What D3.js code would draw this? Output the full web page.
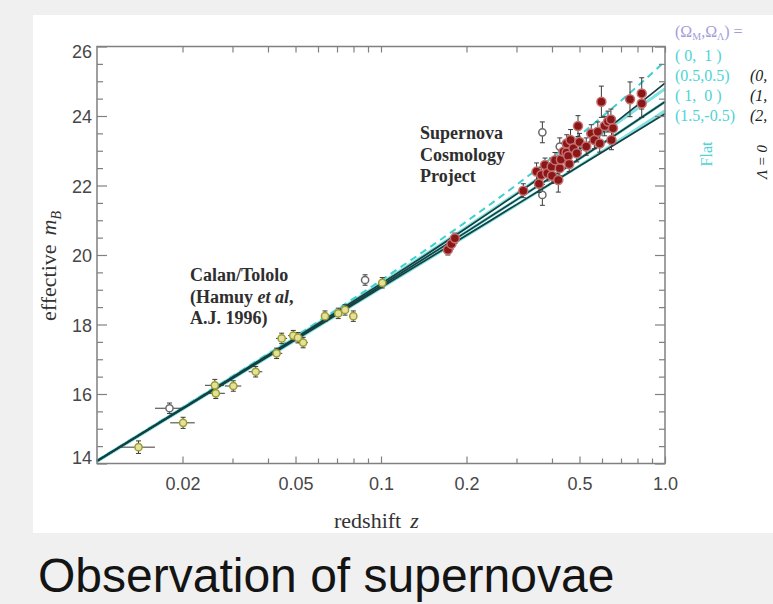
<!DOCTYPE html>
<html>
<head>
<meta charset="utf-8">
<script src="https://cdn.jsdelivr.net/npm/d3@7"></script>
<style>
  body { margin: 0; background: #f0f0f0; }
  svg { display: block; }
</style>
</head>
<body>
<div id="chart"></div>
<script>
// Model curves: effective m_B on a redshift grid, one array per (Omega_M, Omega_Lambda)
const modelZ   = [0.01, 0.02, 0.05, 0.1, 0.2, 0.3, 0.5, 0.7, 1.0];
const flat01   = [14.086, 15.612, 17.665, 19.271, 20.965, 22.019, 23.439, 24.442, 25.569];
const flat55   = [14.078, 15.596, 17.624, 19.189, 20.800, 21.772, 23.030, 23.876, 24.784];
const flat10   = [14.069, 15.580, 17.585, 19.115, 20.666, 21.587, 22.768, 23.559, 24.408];
const flat15   = [14.061, 15.564, 17.548, 19.048, 20.552, 21.439, 22.571, 23.331, 24.150];
const open00   = [14.075, 15.591, 17.613, 19.170, 20.776, 21.753, 23.043, 23.941, 24.945];
const open10   = [14.069, 15.580, 17.585, 19.115, 20.666, 21.587, 22.768, 23.559, 24.408];
const open20   = [14.064, 15.569, 17.559, 19.064, 20.569, 21.450, 22.559, 23.290, 24.064];

// Calan/Tololo supernovae (low redshift)
const calanZ      = [0.0140, 0.0201, 0.0260, 0.0262, 0.0302, 0.0362, 0.0429, 0.0447, 0.0491, 0.0510, 0.0532, 0.0635, 0.0707, 0.0747, 0.0799, 0.1010];
const calanMag    = [14.47, 15.17, 16.25, 16.02, 16.23, 16.64, 17.17, 17.60, 17.68, 17.62, 17.48, 18.24, 18.32, 18.42, 18.24, 19.20];
const calanMagErr = [0.18, 0.16, 0.17, 0.15, 0.15, 0.15, 0.15, 0.15, 0.15, 0.15, 0.15, 0.15, 0.15, 0.15, 0.15, 0.15];
const calanZErr   = [0.0020, 0.0020, 0.0020, 0.0020, 0.0020, 0.0020, 0.0020, 0.0020, 0.0020, 0.0020, 0.0020, 0.0020, 0.0020, 0.0020, 0.0020, 0.0020];

// Excluded low-redshift points (open circles)
const lowOpenZ      = [0.0180, 0.0879];
const lowOpenMag    = [15.59, 19.28];
const lowOpenMagErr = [0.15, 0.15];
const lowOpenZErr   = [0.0020, 0.0020];

// Supernova Cosmology Project (high redshift)
const scpZ      = [0.172, 0.177, 0.182, 0.317, 0.353, 0.360, 0.367, 0.378, 0.385, 0.399, 0.400, 0.410, 0.421, 0.426, 0.430,
                   0.439, 0.450, 0.451, 0.456, 0.460, 0.465, 0.476, 0.489, 0.494, 0.500, 0.528, 0.550, 0.564, 0.580, 0.589,
                   0.597, 0.613, 0.630, 0.645, 0.648, 0.656, 0.753, 0.828, 0.828];
const scpMag    = [20.15, 20.32, 20.48, 21.85, 22.40, 22.05, 22.30, 22.59, 22.35, 22.54, 22.28, 22.73, 22.16, 22.50, 22.75,
                   22.97, 22.95, 23.21, 22.85, 22.62, 23.31, 23.07, 22.93, 23.71, 23.25, 23.12, 23.50, 23.31, 23.55, 23.21,
                   24.41, 23.71, 23.84, 23.90, 23.31, 23.65, 24.48, 24.65, 24.36];
const scpMagErr = [0.15, 0.15, 0.15, 0.20, 0.25, 0.25, 0.22, 0.20, 0.22, 0.25, 0.22, 0.22, 0.35, 0.22, 0.25,
                   0.25, 0.25, 0.25, 0.22, 0.22, 0.30, 0.22, 0.25, 0.30, 0.25, 0.25, 0.25, 0.25, 0.28, 0.25,
                   0.45, 0.28, 0.30, 0.30, 0.28, 0.30, 0.50, 0.45, 0.40];

// Excluded high-redshift points (open circles)
const highOpenZ      = [0.370, 0.370, 0.426];
const highOpenMag    = [23.53, 21.73, 23.12];
const highOpenMagErr = [0.30, 0.30, 0.25];

// Axis ticks
const xMajorTicks = [0.02, 0.05, 0.1, 0.2, 0.5, 1.0];
const xTickLabels = ["0.02", "0.05", "0.1", "0.2", "0.5", "1.0"];
const xMinorTicks = [0.03, 0.04, 0.06, 0.07, 0.08, 0.09, 0.3, 0.4, 0.6, 0.7, 0.8, 0.9];
const yMajorTicks = [14, 16, 18, 20, 22, 24, 26];

// Model legend (right edge of the slide crops the second column)
const flatLabels = ["( 0,  1 )", "(0.5,0.5)", "( 1,  0 )", "(1.5,-0.5)"];
const openLabels = ["", "(0,", "(1,", "(2,"];

document.addEventListener("DOMContentLoaded", function() {
  const width = 773, height = 604;
  const left = 97, right = 665, top = 46.5, bottom = 463.5;
  const serif = "'Liberation Serif', 'Times New Roman', serif";
  const sans = "'Liberation Sans', Arial, sans-serif";
  const axisColor = "#808080";

  const x = d3.scaleLog().domain([0.01, 1.0]).range([left, right]);
  const y = d3.scaleLinear().domain([14, 26]).range([bottom, top]);

  const svg = d3.select("#chart").append("svg")
      .attr("width", width)
      .attr("height", height);

  // white slide panel
  svg.append("rect")
      .attr("x", 33).attr("y", 15)
      .attr("width", width - 33).attr("height", 518)
      .attr("fill", "#fff");

  // Model curves
  const line = d3.line()
      .x(d => x(d[0]))
      .y(d => y(d[1]))
      .curve(d3.curveMonotoneX);
  const pairs = arr => modelZ.map((z, i) => [z, arr[i]]);

  const models = [
    { vals: flat55, color: "#80e2e2", w: 3, dash: null },
    { vals: flat15, color: "#80e2e2", w: 3, dash: null },
    { vals: flat10, color: "#80e2e2", w: 3, dash: null },
    { vals: flat01, color: "#3fcfcf", w: 2, dash: "7,5" },
    { vals: open00, color: "#163f3f", w: 1.7, dash: null },
    { vals: open10, color: "#163f3f", w: 1.7, dash: null },
    { vals: open20, color: "#163f3f", w: 1.7, dash: null }
  ];
  svg.append("g").selectAll("path")
    .data(models)
    .enter().append("path")
      .attr("d", d => line(pairs(d.vals)))
      .attr("fill", "none")
      .attr("stroke", d => d.color)
      .attr("stroke-width", d => d.w)
      .attr("stroke-dasharray", d => d.dash);

  // Error bars + markers
  function drawPoints(zs, mags, magErr, zErr, fill, stroke, r) {
    const data = zs.map((z, i) => ({ z: z, m: mags[i], dm: magErr[i], dz: zErr ? zErr[i] : 0 }));
    const g = svg.append("g");
    const bars = g.selectAll("g").data(data).enter().append("g")
        .attr("stroke", "#3a3a3a").attr("stroke-width", 1);
    bars.append("line")
        .attr("x1", d => x(d.z)).attr("x2", d => x(d.z))
        .attr("y1", d => y(d.m - d.dm)).attr("y2", d => y(d.m + d.dm));
    bars.append("line")
        .attr("x1", d => x(d.z) - 2.5).attr("x2", d => x(d.z) + 2.5)
        .attr("y1", d => y(d.m + d.dm)).attr("y2", d => y(d.m + d.dm));
    bars.append("line")
        .attr("x1", d => x(d.z) - 2.5).attr("x2", d => x(d.z) + 2.5)
        .attr("y1", d => y(d.m - d.dm)).attr("y2", d => y(d.m - d.dm));
    bars.filter(d => d.dz > 0).append("line")
        .attr("x1", d => x(d.z - d.dz)).attr("x2", d => x(d.z + d.dz))
        .attr("y1", d => y(d.m)).attr("y2", d => y(d.m));
    g.selectAll("circle").data(data).enter().append("circle")
        .attr("cx", d => x(d.z)).attr("cy", d => y(d.m))
        .attr("r", r)
        .attr("fill", fill)
        .attr("stroke", stroke)
        .attr("stroke-width", 1.5);
  }
  drawPoints(calanZ, calanMag, calanMagErr, calanZErr, "#e4e29a", "#9c9c32", 3.6);
  drawPoints(lowOpenZ, lowOpenMag, lowOpenMagErr, lowOpenZErr, "#ffffff", "#6a6a6a", 3.6);
  drawPoints(highOpenZ, highOpenMag, highOpenMagErr, null, "#ffffff", "#6a6a6a", 3.6);
  drawPoints(scpZ, scpMag, scpMagErr, null, "#8a1717", "#c77070", 4.5);

  // Frame
  svg.append("rect")
      .attr("x", left).attr("y", top)
      .attr("width", right - left).attr("height", bottom - top)
      .attr("fill", "none")
      .attr("stroke", axisColor)
      .attr("stroke-width", 1.5);

  function styleAxis(g) {
    g.select(".domain").remove();
    g.selectAll(".tick line").attr("stroke", axisColor).attr("stroke-width", 1.2);
    g.selectAll(".tick text")
        .attr("fill", "#474747")
        .style("font-family", sans)
        .style("font-size", "18px");
  }

  // x axes (ticks point inward)
  svg.append("g")
      .attr("transform", `translate(0,${bottom})`)
      .call(d3.axisBottom(x).tickValues(xMajorTicks)
        .tickFormat((d, i) => xTickLabels[i])
        .tickSizeInner(-7).tickSizeOuter(0).tickPadding(14))
      .call(styleAxis);
  svg.append("g")
      .attr("transform", `translate(0,${bottom})`)
      .call(d3.axisBottom(x).tickValues(xMinorTicks).tickFormat("")
        .tickSizeInner(-5).tickSizeOuter(0))
      .call(styleAxis);
  svg.append("g")
      .attr("transform", `translate(0,${top})`)
      .call(d3.axisTop(x).tickValues(xMajorTicks.concat(xMinorTicks)).tickFormat("")
        .tickSizeInner(-6).tickSizeOuter(0))
      .call(styleAxis);

  // y axes
  const yMinor = d3.range(14.5, 26, 0.5).filter(v => v % 2 !== 0);
  const yLeft = svg.append("g")
      .attr("transform", `translate(${left},0)`)
      .call(d3.axisLeft(y).tickValues(yMajorTicks)
        .tickSizeInner(-10).tickSizeOuter(0).tickPadding(5))
      .call(styleAxis);
  // keep the end labels inside the frame height
  yLeft.selectAll(".tick text")
      .attr("dy", d => d === 26 ? "0.62em" : d === 14 ? "0.02em" : "0.38em");
  svg.append("g")
      .attr("transform", `translate(${left},0)`)
      .call(d3.axisLeft(y).tickValues(yMinor).tickFormat("")
        .tickSizeInner(-6).tickSizeOuter(0))
      .call(styleAxis);
  svg.append("g")
      .attr("transform", `translate(${right},0)`)
      .call(d3.axisRight(y).tickValues(yMajorTicks).tickFormat("")
        .tickSizeInner(-10).tickSizeOuter(0))
      .call(styleAxis);
  svg.append("g")
      .attr("transform", `translate(${right},0)`)
      .call(d3.axisRight(y).tickValues(yMinor).tickFormat("")
        .tickSizeInner(-6).tickSizeOuter(0))
      .call(styleAxis);

  // Axis titles
  const xt = svg.append("text")
      .attr("x", 334).attr("y", 528)
      .attr("fill", "#333")
      .style("font-family", serif)
      .style("font-size", "22px");
  xt.append("tspan").text("redshift");
  xt.append("tspan").attr("dx", 9).style("font-style", "italic").text("z");

  const yt = svg.append("text")
      .attr("transform", "translate(56,266) rotate(-90)")
      .attr("text-anchor", "middle")
      .attr("fill", "#333")
      .style("font-family", serif)
      .style("font-size", "22px");
  yt.append("tspan").text("effective");
  yt.append("tspan").attr("dx", 9).style("font-style", "italic").text("m");
  yt.append("tspan").attr("dy", 5).style("font-size", "14px").style("font-style", "italic").text("B");

  // Annotations
  function block(lines, x0, y0) {
    const t = svg.append("text")
        .attr("fill", "#2e2e2e")
        .style("font-family", serif)
        .style("font-weight", "bold")
        .style("font-size", "18px");
    lines.forEach((ln, i) => {
      const row = t.append("tspan").attr("x", x0).attr("y", y0 + i * 21.5);
      ln.forEach(part => {
        row.append("tspan").style("font-style", part[1] ? "italic" : null).text(part[0]);
      });
    });
  }
  block([[["Supernova"]], [["Cosmology"]], [["Project"]]], 420, 139);
  block([[["Calan/Tololo"]], [["(Hamuy "], ["et al", true], [","]], [["A.J. 1996)"]]], 190, 281);

  // Legend of models
  const lg = svg.append("g").style("font-family", serif).style("font-size", "16px");
  const head = lg.append("text").attr("x", 675).attr("y", 37).attr("fill", "#a29ddb");
  head.append("tspan").text("(Ω");
  head.append("tspan").attr("dy", 3).style("font-size", "10px").text("M");
  head.append("tspan").attr("dy", -3).text(",Ω");
  head.append("tspan").attr("dy", 3).style("font-size", "10px").text("Λ");
  head.append("tspan").attr("dy", -3).text(") =");

  lg.selectAll("text.flat").data(flatLabels).enter().append("text")
      .attr("class", "flat")
      .attr("x", 675).attr("y", (d, i) => 61 + i * 20)
      .attr("fill", "#4fd3d3")
      .style("white-space", "pre")
      .text(d => d);
  lg.selectAll("text.open").data(openLabels).enter().append("text")
      .attr("class", "open")
      .attr("x", 750).attr("y", (d, i) => 61 + i * 20)
      .attr("fill", "#222")
      .style("font-style", "italic")
      .text(d => d);
  lg.append("text")
      .attr("transform", "translate(712,154) rotate(-90)")
      .attr("text-anchor", "middle")
      .attr("fill", "#4fd3d3")
      .text("Flat");
  lg.append("text")
      .attr("transform", "translate(767,162) rotate(-90)")
      .attr("text-anchor", "middle")
      .attr("fill", "#222")
      .style("font-style", "italic")
      .style("font-size", "15px")
      .text("Λ = 0");

  // Slide caption
  svg.append("text")
      .attr("x", 38).attr("y", 592)
      .attr("fill", "#141414")
      .style("font-family", sans)
      .style("font-size", "48px")
      .text("Observation of supernovae");
});
</script>
</body>
</html>
